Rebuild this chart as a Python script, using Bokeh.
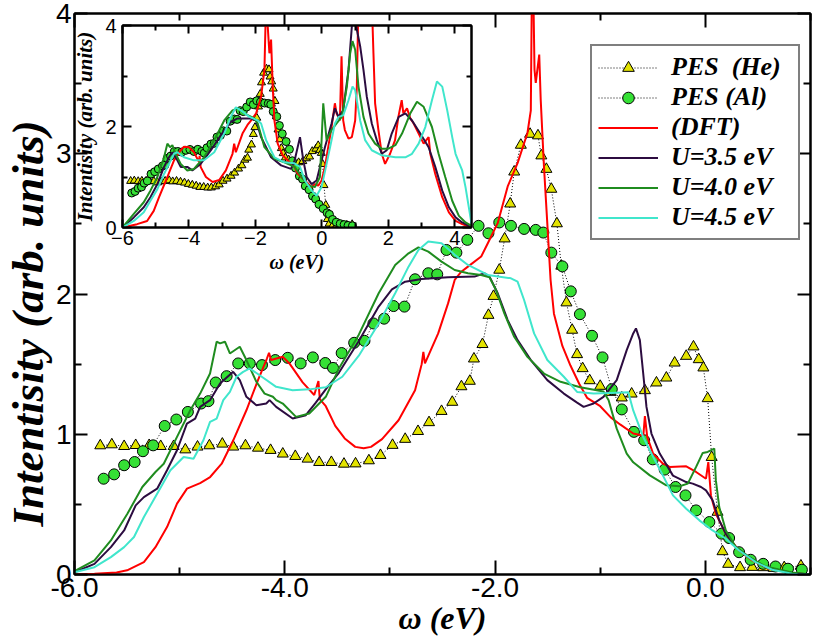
from bokeh.plotting import figure
from bokeh.models import (Range1d, FixedTicker, PrintfTickFormatter, LinearAxis, Legend,
                          LegendItem, Title, CustomLabelingPolicy)
from bokeh.embed import file_html
from bokeh.resources import INLINE

# ---------------- data (main panel) ----------------
he_x = [-5.755,-5.645,-5.528,-5.418,-5.29,-5.18,-5.057,-4.946,-4.83,-4.717,-4.594,-4.49,-4.374,-4.255,-4.135,-4.019,-3.90,-3.783,-3.673,-3.557,-3.437,-3.327,-3.20,-3.09,-2.975,-2.855,-2.733,-2.628,-2.509,-2.407,-2.32,-2.24,-2.201,-2.12,-2.063,-2.015,-1.96,-1.909,-1.856,-1.818,-1.755,-1.667,-1.592,-1.56,-1.512,-1.465,-1.412,-1.37,-1.321,-1.267,-1.22,-1.167,-1.1,-1.0,-0.9,-0.795,-0.701,-0.575,-0.465,-0.371,-0.292,-0.182,-0.113,-0.063,-0.019,0.022,0.06,0.116,0.163,0.217,0.33,0.446,0.55,0.65,0.75,0.909]
he_y = [0.919,0.926,0.914,0.921,0.921,0.914,0.914,0.890,0.91,0.919,0.931,0.91,0.919,0.902,0.886,0.86,0.843,0.824,0.80,0.80,0.788,0.79,0.812,0.85,0.922,0.965,1.021,1.084,1.164,1.229,1.34,1.379,1.538,1.641,1.849,1.984,2.171,2.394,2.643,2.871,3.062,3.14,3.129,2.986,2.89,2.748,2.502,2.2,1.938,1.743,1.569,1.469,1.383,1.343,1.30,1.26,1.288,1.312,1.367,1.402,1.509,1.557,1.624,1.533,1.474,1.255,0.836,0.445,0.164,0.074,0.05,0.052,0.05,0.045,0.05,0.062]

al_x = [-5.723,-5.623,-5.528,-5.428,-5.349,-5.252,-5.142,-5.031,-4.922,-4.796,-4.726,-4.657,-4.553,-4.443,-4.333,-4.217,-4.091,-3.972,-3.849,-3.733,-3.615,-3.541,-3.459,-3.34,-3.242,-3.157,-3.055,-2.965,-2.862,-2.761,-2.635,-2.55,-2.462,-2.368,-2.264,-2.157,-2.063,-1.96,-1.849,-1.724,-1.613,-1.541,-1.465,-1.36,-1.28,-1.193,-1.078,-0.978,-0.89,-0.795,-0.679,-0.582,-0.5,-0.387,-0.283,-0.189,-0.088,0.038,0.154,0.226,0.321,0.431,0.55,0.667,0.786,0.918]
al_y = [0.683,0.714,0.779,0.802,0.879,0.921,1.059,1.105,1.159,1.219,1.236,1.369,1.414,1.505,1.505,1.493,1.529,1.545,1.505,1.548,1.508,1.473,1.579,1.652,1.666,1.79,1.824,1.914,1.91,2.105,2.148,2.14,2.314,2.295,2.386,2.486,2.433,2.51,2.486,2.464,2.457,2.438,2.295,2.197,2.019,1.856,1.702,1.548,1.321,1.177,1.017,0.957,0.821,0.748,0.624,0.564,0.457,0.374,0.291,0.26,0.159,0.105,0.076,0.057,0.041,0.034]

dft_x = [-6.0,-5.81,-5.6,-5.5,-5.34,-5.23,-5.12,-5.025,-4.93,-4.805,-4.71,-4.6,-4.49,-4.365,-4.255,-4.17,-4.15,-4.13,-4.02,-3.956,-3.83,-3.72,-3.68,-3.667,-3.61,-3.52,-3.43,-3.33,-3.25,-3.18,-3.075,-2.918,-2.761,-2.698,-2.682,-2.667,-2.541,-2.447,-2.384,-2.321,-2.258,-2.132,-2.069,-1.975,-1.88,-1.786,-1.692,-1.66,-1.645,-1.625,-1.613,-1.58,-1.566,-1.535,-1.503,-1.472,-1.44,-1.36,-1.283,-1.2,-1.125,-1.0,-0.9,-0.811,-0.686,-0.59,-0.575,-0.553,-0.497,-0.403,-0.34,-0.182,-0.088,0.006,0.028,0.053,0.1,0.195,0.321,0.446,0.604,0.824,1.0]
dft_y = [0.0,0.005,0.015,0.03,0.088,0.195,0.338,0.505,0.612,0.652,0.695,0.79,0.957,1.171,1.386,1.54,1.58,1.53,1.552,1.505,1.37,1.28,1.38,1.25,1.2,1.06,0.97,0.91,0.9,0.91,0.965,1.1,1.314,1.5,1.588,1.505,1.719,1.933,2.1,2.159,2.195,2.267,2.362,2.505,2.767,2.933,3.148,3.31,4.6,3.6,3.505,3.707,3.386,2.91,2.5,2.1,1.86,1.63,1.49,1.36,1.26,1.2,1.12,1.07,1.005,0.99,1.13,0.981,0.862,0.79,0.767,0.771,0.731,0.683,0.802,0.564,0.433,0.29,0.171,0.1,0.04,0.01,0.0]

u35_x = [-6.0,-5.81,-5.654,-5.528,-5.418,-5.34,-5.214,-5.12,-5.025,-4.931,-4.852,-4.805,-4.711,-4.616,-4.491,-4.428,-4.365,-4.27,-4.176,-4.145,-4.082,-3.925,-3.8,-3.705,-3.6,-3.484,-3.3,-3.107,-2.981,-2.855,-2.698,-2.447,-2.195,-2.1,-2.053,-1.975,-1.88,-1.786,-1.66,-1.503,-1.346,-1.22,-1.158,-1.063,-0.969,-0.843,-0.748,-0.686,-0.66,-0.623,-0.591,-0.56,-0.513,-0.434,-0.308,-0.182,-0.12,-0.041,0.006,0.069,0.132,0.195,0.29,0.415,0.573,0.824,1.0]
u35_y = [0.016,0.076,0.195,0.314,0.493,0.552,0.612,0.743,0.886,1.076,1.112,1.195,1.243,1.362,1.445,1.386,1.267,1.207,1.219,1.243,1.195,1.112,1.136,1.225,1.33,1.44,1.66,1.91,2.033,2.088,2.107,2.119,2.124,2.148,2.124,2.005,1.814,1.671,1.529,1.386,1.29,1.225,1.195,1.219,1.267,1.386,1.6,1.719,1.755,1.671,1.433,1.195,1.005,0.862,0.705,0.659,0.648,0.624,0.6,0.529,0.386,0.29,0.195,0.124,0.052,0.01,0.0]

u40_x = [-6.0,-5.81,-5.654,-5.497,-5.355,-5.23,-5.151,-5.025,-4.899,-4.805,-4.711,-4.648,-4.616,-4.569,-4.522,-4.428,-4.365,-4.27,-4.192,-4.113,-4.082,-4.019,-3.893,-3.767,-3.61,-3.484,-3.296,-3.107,-2.95,-2.823,-2.729,-2.635,-2.509,-2.384,-2.258,-2.132,-2.053,-1.991,-1.912,-1.818,-1.692,-1.535,-1.377,-1.19,-0.969,-0.92,-0.843,-0.748,-0.686,-0.528,-0.371,-0.245,-0.167,-0.088,-0.025,0.022,0.085,0.1,0.132,0.195,0.29,0.415,0.573,0.824,1.0]
u40_y = [0.024,0.1,0.243,0.433,0.624,0.731,0.79,0.981,1.171,1.29,1.433,1.66,1.648,1.66,1.576,1.624,1.529,1.374,1.29,1.267,1.243,1.219,1.124,1.148,1.267,1.47,1.71,2.005,2.207,2.29,2.333,2.302,2.231,2.171,2.148,2.136,2.119,2.029,1.862,1.695,1.552,1.433,1.374,1.335,1.305,1.243,1.04,0.862,0.8,0.707,0.636,0.629,0.648,0.767,0.867,0.874,0.898,0.671,0.481,0.314,0.195,0.124,0.057,0.014,0.0]

u45_x = [-6.0,-5.81,-5.654,-5.528,-5.434,-5.34,-5.214,-5.088,-4.962,-4.868,-4.774,-4.711,-4.648,-4.585,-4.522,-4.459,-4.396,-4.333,-4.239,-4.082,-3.925,-3.767,-3.61,-3.453,-3.296,-3.107,-2.95,-2.823,-2.729,-2.635,-2.509,-2.384,-2.258,-2.069,-1.849,-1.786,-1.724,-1.629,-1.503,-1.346,-1.22,-1.063,-0.906,-0.733,-0.686,-0.591,-0.497,-0.403,-0.308,-0.182,-0.057,0.069,0.195,0.321,0.478,0.635,0.824,1.0]
u45_y = [0.016,0.052,0.124,0.195,0.267,0.41,0.576,0.743,0.838,0.826,0.957,1.088,1.112,1.243,1.302,1.41,1.445,1.469,1.421,1.338,1.314,1.32,1.335,1.41,1.56,1.79,2.005,2.195,2.314,2.374,2.362,2.279,2.207,2.136,2.112,2.088,1.957,1.719,1.529,1.41,1.302,1.29,1.295,1.3,1.17,0.98,0.84,0.705,0.564,0.469,0.386,0.314,0.255,0.171,0.088,0.034,0.005,0.0]

# ---------------- data (inset, full spectrum) ----------------
dft_in_x = [-6.0,-5.56,-5.26,-5.06,-4.9,-4.65,-4.45,-4.25,-4.15,-4.0,-3.85,-3.7,-3.68,-3.65,-3.49,-3.29,-3.09,-2.89,-2.69,-2.64,-2.59,-2.39,-2.24,-2.13,-1.98,-1.83,-1.73,-1.68,-1.58,-1.53,-1.48,-1.43,-1.33,-1.18,-1.03,-0.83,-0.72,-0.51,-0.31,-0.21,-0.11,-0.01,0.09,0.19,0.29,0.39,0.44,0.54,0.59,0.64,0.69,0.8,0.9,1.0,1.05,1.1,1.3,1.5,1.55,1.6,1.7,1.8,1.9,2.05,2.2,2.3,2.4,2.45,2.56,2.66,2.76,2.91,3.06,3.21,3.26,3.41,3.62,3.82,4.02,4.22,4.5]
dft_in_y = [0.0,0.066,0.13,0.33,0.6,1.0,1.33,1.53,1.6,1.59,1.49,1.3,1.42,1.2,1.0,0.9,0.94,1.13,1.46,1.66,1.49,1.86,2.03,2.12,2.26,2.59,3.12,4.5,3.45,3.72,2.79,2.12,1.66,1.43,1.33,1.2,1.06,0.93,0.8,0.86,0.83,0.93,1.2,1.59,1.99,2.46,2.26,2.12,3.39,2.12,1.93,1.76,1.79,2.12,2.79,4.5,5.0,4.5,3.45,2.46,1.93,1.46,1.26,1.46,1.73,2.19,2.52,2.26,2.36,2.16,2.06,1.86,1.66,1.79,1.46,1.06,0.6,0.3,0.13,0.066,0.0]

u35_in_x = [-6.0,-5.66,-5.36,-5.16,-4.95,-4.75,-4.6,-4.5,-4.35,-4.25,-4.05,-3.9,-3.65,-3.34,-3.04,-2.74,-2.54,-2.13,-1.98,-1.83,-1.53,-1.23,-0.93,-0.82,-0.66,-0.56,-0.46,-0.31,-0.16,-0.06,0.09,0.29,0.39,0.5,0.64,0.8,0.9,0.97,1.05,1.15,1.25,1.35,1.5,1.65,1.8,1.95,2.1,2.31,2.51,2.71,2.96,3.21,3.41,3.62,3.82,4.02,4.22,4.42,4.5]
u35_in_y = [0.0,0.2,0.4,0.6,0.86,1.2,1.39,1.49,1.33,1.2,1.2,1.13,1.26,1.53,1.83,2.09,2.16,2.16,2.12,1.79,1.39,1.23,1.16,1.33,1.79,1.33,1.0,0.86,0.93,1.2,1.59,2.06,2.36,2.19,2.32,3.12,3.98,4.3,3.92,3.59,3.12,2.59,2.06,1.73,1.46,1.53,1.86,2.19,2.26,2.12,1.86,1.59,1.2,0.73,0.4,0.2,0.1,0.03,0.0]

u40_in_x = [-6.0,-5.66,-5.36,-5.16,-4.95,-4.75,-4.65,-4.57,-4.5,-4.4,-4.25,-4.05,-3.85,-3.55,-3.24,-2.94,-2.69,-2.54,-2.34,-2.03,-1.93,-1.73,-1.43,-1.13,-0.82,-0.61,-0.41,-0.21,-0.06,0.04,0.14,0.29,0.44,0.6,0.75,0.85,0.92,1.0,1.1,1.25,1.4,1.6,1.8,2.0,2.21,2.41,2.66,2.86,3.06,3.31,3.51,3.71,3.92,4.12,4.32,4.5]
u40_in_y = [0.0,0.27,0.5,0.73,1.0,1.39,1.66,1.59,1.63,1.46,1.26,1.13,1.16,1.39,1.73,2.12,2.32,2.36,2.26,2.16,2.06,1.59,1.36,1.29,1.2,1.0,0.83,0.8,1.0,2.46,1.73,1.93,2.06,2.19,2.79,3.45,3.69,3.52,2.79,2.19,1.86,1.66,1.56,1.56,1.63,1.86,2.26,2.49,2.39,1.99,1.46,1.0,0.53,0.23,0.1,0.03]

u45_in_x = [-6.0,-5.66,-5.36,-5.16,-4.95,-4.75,-4.6,-4.45,-4.35,-4.15,-3.85,-3.55,-3.24,-2.94,-2.74,-2.59,-2.44,-2.18,-1.93,-1.83,-1.68,-1.43,-1.13,-0.83,-0.66,-0.51,-0.31,-0.16,-0.01,0.14,0.29,0.39,0.5,0.64,0.8,0.92,1.0,1.15,1.3,1.5,1.8,2.21,2.51,2.71,2.91,3.11,3.31,3.46,3.62,3.77,3.92,4.02,4.12,4.22,4.32,4.42,4.5]
u45_in_y = [0.0,0.13,0.3,0.53,0.76,1.06,1.26,1.46,1.49,1.39,1.33,1.33,1.49,1.86,2.19,2.38,2.32,2.19,2.12,2.06,1.73,1.39,1.29,1.27,1.2,0.93,0.73,0.63,0.8,1.26,1.73,2.06,2.19,2.22,2.52,2.79,2.72,2.12,1.73,1.53,1.43,1.39,1.39,1.46,1.66,1.99,2.52,2.89,2.79,2.32,1.79,1.46,1.29,1.13,0.8,0.4,0.07]

labels = ["PES  (He)", "PES (Al)", "(DFT)", "U=3.5 eV", "U=4.0 eV", "U=4.5 eV"]
x_title = "ω (eV)"
y_title = "Intentisity (arb. units)"
main_xticks = [-6, -4, -2, 0]
main_xminor = [-5, -3, -1, 1]
main_yticks = [0, 1, 2, 3, 4]
main_yminor = [0.5, 1.5, 2.5, 3.5]
in_xticks = [-6, -4, -2, 0, 2, 4]
in_xminor = [-5, -3, -1, 1, 3]
in_yticks = [0, 2, 4]
in_yminor = [1, 3]

# ---------------- styles ----------------
SANS = "Liberation Sans"
SERIF = "Liberation Serif"
C_HE = "#e3e300"
C_AL = "#35e035"
C_DFT = "#ff0000"
C_35 = "#2c0c40"
C_40 = "#1f8c1f"
C_45 = "#40e6cc"
W, H = 814, 643
HIDE_LABELS = "const all = Array.from(indices); for (const i of all) { indices.unset(i) } return indices"


def style_axis(ax, ticks, minor, tin, mtin, show, size="28px", standoff=3):
    ax.ticker = FixedTicker(ticks=ticks, minor_ticks=minor)
    ax.major_tick_in = tin
    ax.major_tick_out = 0
    ax.minor_tick_in = mtin
    ax.minor_tick_out = 0
    ax.axis_line_width = 2
    ax.major_tick_line_width = 2
    ax.minor_tick_line_width = 2
    ax.axis_line_color = "black"
    ax.major_tick_line_color = "black"
    ax.minor_tick_line_color = "black"
    if show:
        ax.major_label_text_font = SANS
        ax.major_label_text_font_size = size
        ax.major_label_text_color = "black"
        ax.major_label_standoff = standoff
    else:
        ax.major_label_text_font_size = "1px"
        ax.major_label_standoff = 0
        ax.major_label_policy = CustomLabelingPolicy(code=HIDE_LABELS)


# ---------------- main figure ----------------
p = figure(width=W, height=H, x_range=Range1d(-6, 1), y_range=Range1d(0, 4),
           output_backend="svg", toolbar_location=None,
           min_border_left=70, min_border_right=2, min_border_top=13, min_border_bottom=69,
           outline_line_color="black", outline_line_width=2)
p.xgrid.visible = False
p.ygrid.visible = False

style_axis(p.xaxis[0], main_xticks, main_xminor, 14, 7, True, "28px", 3)
p.xaxis[0].formatter = PrintfTickFormatter(format="%.1f")
p.xaxis[0].axis_label = x_title
p.xaxis[0].axis_label_text_font = SERIF
p.xaxis[0].axis_label_text_font_style = "bold italic"
p.xaxis[0].axis_label_text_font_size = "32px"
p.xaxis[0].axis_label_text_color = "black"
p.xaxis[0].axis_label_standoff = 0

style_axis(p.yaxis[0], main_yticks, main_yminor, 13, 7, True, "28px", 3)

top_ax = LinearAxis()
style_axis(top_ax, main_xticks, main_xminor, 14, 7, False)
p.add_layout(top_ax, "above")
right_ax = LinearAxis()
style_axis(right_ax, main_yticks, main_yminor, 13, 7, False)
p.add_layout(right_ax, "right")

# y title as a side title, shifted down along the axis like the reference
y_t = Title(text=y_title, align="left", offset=48, standoff=0,
            text_font=SERIF, text_font_style="bold italic", text_font_size="45px",
            text_color="black")
p.add_layout(y_t, "left")

r_he_l = p.line(he_x, he_y, line_color="black", line_width=1, line_dash="1 2")
r_he_m = p.scatter(he_x, he_y, marker="triangle", size=11, fill_color=C_HE, line_color="black", line_width=1)
r_al_l = p.line(al_x, al_y, line_color="black", line_width=1, line_dash="1 2")
r_al_m = p.scatter(al_x, al_y, marker="circle", size=11, fill_color=C_AL, line_color="black", line_width=1)
r_dft = p.line(dft_x, dft_y, line_color=C_DFT, line_width=2)
r_35 = p.line(u35_x, u35_y, line_color=C_35, line_width=2)
r_40 = p.line(u40_x, u40_y, line_color=C_40, line_width=2)
r_45 = p.line(u45_x, u45_y, line_color=C_45, line_width=2)

legend = Legend(items=[
    LegendItem(label=labels[0], renderers=[r_he_l, r_he_m]),
    LegendItem(label=labels[1], renderers=[r_al_l, r_al_m]),
    LegendItem(label=labels[2], renderers=[r_dft]),
    LegendItem(label=labels[3], renderers=[r_35]),
    LegendItem(label=labels[4], renderers=[r_40]),
    LegendItem(label=labels[5], renderers=[r_45]),
], location=(516, 334))
legend.label_text_font = SERIF
legend.label_text_font_style = "bold italic"
legend.label_text_font_size = "26px"
legend.label_text_color = "black"
legend.label_standoff = 13
legend.label_width = 121
legend.glyph_width = 60
legend.glyph_height = 29
legend.label_height = 29
legend.spacing = 0
legend.padding = 6
legend.margin = 0
legend.border_line_color = "black"
legend.border_line_width = 2
legend.background_fill_color = "white"
legend.background_fill_alpha = 1.0
p.add_layout(legend)

# ---------------- inset figure (overlaid) ----------------
q = figure(width=W, height=H, x_range=Range1d(-6, 4.5), y_range=Range1d(0, 4),
           output_backend="svg", toolbar_location=None,
           min_border_left=122, min_border_right=343, min_border_top=25, min_border_bottom=416,
           border_fill_color=None, background_fill_color="white",
           outline_line_color="black", outline_line_width=2,
           styles={"position": "absolute", "left": "0px", "top": "0px"})
q.xgrid.visible = False
q.ygrid.visible = False

style_axis(q.xaxis[0], in_xticks, in_xminor, 8, 5, True, "20px", 3)
q.xaxis[0].axis_label = x_title
q.xaxis[0].axis_label_text_font = SERIF
q.xaxis[0].axis_label_text_font_style = "bold italic"
q.xaxis[0].axis_label_text_font_size = "20px"
q.xaxis[0].axis_label_text_color = "black"
q.xaxis[0].axis_label_standoff = 3

style_axis(q.yaxis[0], in_yticks, in_yminor, 9, 5, True, "20px", 6)
q.yaxis[0].axis_label = y_title
q.yaxis[0].axis_label_text_font = SERIF
q.yaxis[0].axis_label_text_font_style = "bold italic"
q.yaxis[0].axis_label_text_font_size = "21px"
q.yaxis[0].axis_label_text_color = "black"
q.yaxis[0].axis_label_standoff = 5

q_top = LinearAxis()
style_axis(q_top, in_xticks, in_xminor, 8, 5, False)
q.add_layout(q_top, "above")
q_right = LinearAxis()
style_axis(q_right, in_yticks, in_yminor, 9, 5, False)
q.add_layout(q_right, "right")

q.line(he_x, he_y, line_color="black", line_width=1, line_dash="1 2")
q.scatter(he_x, he_y, marker="triangle", size=8, fill_color=C_HE, line_color="black", line_width=1)
q.line(al_x, al_y, line_color="black", line_width=1, line_dash="1 2")
q.scatter(al_x, al_y, marker="circle", size=8, fill_color=C_AL, line_color="black", line_width=1)
q.line(dft_in_x, dft_in_y, line_color=C_DFT, line_width=2)
q.line(u35_in_x, u35_in_y, line_color=C_35, line_width=2)
q.line(u40_in_x, u40_in_y, line_color=C_40, line_width=2)
q.line(u45_in_x, u45_in_y, line_color=C_45, line_width=2)

open("out.html", "w").write(file_html([p, q], INLINE))
